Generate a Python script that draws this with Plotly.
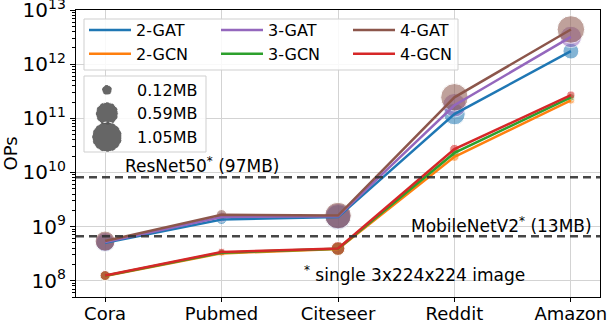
import numpy as np
import plotly.graph_objects as go

# datasets on the x axis
datasets = ["Cora", "Pubmed", "Citeseer", "Reddit", "Amazon"]

# operations per inference (OPs)
ops_2gat = [5.0e8, 1.35e9, 1.5e9, 1.2e11, 1.75e12]
ops_2gcn = [1.22e8, 3.2e8, 3.85e8, 1.95e10, 2.15e11]
ops_3gat = [5.2e8, 1.5e9, 1.55e9, 1.75e11, 3.2e12]
ops_3gcn = [1.24e8, 3.3e8, 3.9e8, 2.3e10, 2.45e11]
ops_4gat = [5.4e8, 1.65e9, 1.6e9, 2.45e11, 4.4e12]
ops_4gcn = [1.25e8, 3.4e8, 3.95e8, 2.7e10, 2.7e11]

# model size in MB (marker area)
mem_2gat = [0.40, 0.12, 0.75, 0.55, 0.30]
mem_2gcn = [0.12, 0.06, 0.22, 0.10, 0.07]
mem_3gat = [0.45, 0.12, 0.80, 0.66, 0.55]
mem_3gcn = [0.12, 0.06, 0.22, 0.10, 0.07]
mem_4gat = [0.48, 0.13, 0.84, 0.90, 0.90]
mem_4gcn = [0.12, 0.07, 0.23, 0.11, 0.08]

# reference CNNs
ref_names = ["ResNet50<sup>*</sup> (97MB)", "MobileNetV2<sup>*</sup> (13MB)"]
ref_ops = [8.2e9, 6.6e8]

size_legend_mb = [0.12, 0.59, 1.05]

series = [
    ("2-GAT", ops_2gat, mem_2gat, "#1f77b4", "legend"),
    ("2-GCN", ops_2gcn, mem_2gcn, "#ff7f0e", "legend"),
    ("3-GAT", ops_3gat, mem_3gat, "#9467bd", "legend2"),
    ("3-GCN", ops_3gcn, mem_3gcn, "#2ca02c", "legend2"),
    ("4-GAT", ops_4gat, mem_4gat, "#8c564b", "legend3"),
    ("4-GCN", ops_4gcn, mem_4gcn, "#d62728", "legend3"),
]

SCALE = 29.0  # px diameter for 1 MB
# plot area in pixels
L, R, T, B = 76, 600, 10, 297


def diam(mb):
    return SCALE * np.sqrt(np.asarray(mb))


def px(x):
    return (x - L) / (R - L)


def py(y):
    return (B - y) / (B - T)


FONT = "DejaVu Sans"
fig = go.Figure()

# markers first (semi transparent), lines on top
for name, ops, mem, col, lg in series:
    fig.add_trace(go.Scatter(
        x=datasets, y=ops, mode="markers",
        marker=dict(size=diam(mem), color=col, opacity=0.55,
                    line=dict(color="white", width=1)),
        showlegend=False, hoverinfo="skip"
    ))
for name, ops, mem, col, lg in series:
    fig.add_trace(go.Scatter(
        x=datasets, y=ops, mode="lines", name=name,
        line=dict(color=col, width=2.5), legend=lg
    ))

# reference lines across the full width (overlay x axis spanning 0..1)
for val in ref_ops:
    fig.add_trace(go.Scatter(
        x=[0, 1], y=[val, val], xaxis="x2", yaxis="y", mode="lines",
        line=dict(color="rgba(50,50,50,0.9)", width=2.5, dash="8px,5px"),
        showlegend=False, hoverinfo="skip"
    ))

# legend frames, drawn on a paper-like overlay
for x0, x1, y0, y1 in [(84, 458, 19, 70), (84, 206, 76, 152)]:
    fig.add_trace(go.Scatter(
        x=[px(x0), px(x1), px(x1), px(x0), px(x0)],
        y=[py(y0), py(y0), py(y1), py(y1), py(y0)],
        xaxis="x2", yaxis="y2", mode="lines", fill="toself",
        fillcolor="rgba(255,255,255,0.85)", line=dict(color="#cfcfcf", width=1),
        showlegend=False, hoverinfo="skip"
    ))

fig.add_annotation(text=ref_names[0], xref="x", x=0.15, xanchor="left",
                   yref="y", y=float(np.log10(ref_ops[0])), yanchor="bottom", yshift=-1,
                   showarrow=False, font=dict(size=17, color="black"))
fig.add_annotation(text=ref_names[1], xref="paper", x=0.989, xanchor="right",
                   yref="y", y=float(np.log10(ref_ops[1])), yanchor="bottom", yshift=-2,
                   showarrow=False, font=dict(size=17, color="black"))
fig.add_annotation(text="<sup>*</sup> single 3x224x224 image", xref="paper", x=px(302),
                   xanchor="left", yref="paper", y=py(274), yanchor="middle",
                   showarrow=False, font=dict(size=17, color="black"))

# size legend
for i, mb in enumerate(size_legend_mb):
    r = float(diam(mb)) / 2
    yc = py(90 + 23.5 * i)
    fig.add_shape(type="circle", layer="above", xref="paper", yref="paper",
                  xsizemode="pixel", ysizemode="pixel",
                  xanchor=px(107), yanchor=yc,
                  x0=-r, x1=r, y0=-r, y1=r,
                  fillcolor="rgba(85,85,85,0.9)", line=dict(color="white", width=1, dash="dot"))
    fig.add_annotation(text=f"{mb:.2f}MB", xref="paper", x=px(135), xanchor="left",
                       yref="paper", y=yc, yanchor="middle", showarrow=False,
                       font=dict(size=16, color="black"))

legend_common = dict(bgcolor="rgba(0,0,0,0)", borderwidth=0, yanchor="top",
                     font=dict(size=16, color="black", family=FONT),
                     itemwidth=42, tracegroupgap=0)
lx = [px(84), px(216), px(348)]

exps = list(range(8, 14))
fig.update_layout(
    width=608, height=322,
    margin=dict(l=L, r=608 - R, t=T, b=322 - B),
    paper_bgcolor="white", plot_bgcolor="white",
    font=dict(family=FONT, color="black"),
    legend=dict(x=lx[0], y=py(13), **legend_common),
    legend2=dict(x=lx[1], y=py(13), **legend_common),
    legend3=dict(x=lx[2], y=py(13), **legend_common),
    xaxis=dict(
        type="category", range=[-0.25, 4.25], automargin=False,
        showgrid=True, gridcolor="#d3d3d3", gridwidth=1,
        ticks="outside", ticklen=4, tickcolor="black",
        ticklabelstandoff=-4,
        showline=True, linecolor="black", linewidth=1.2, mirror=True,
        tickfont=dict(size=18, color="black"),
    ),
    xaxis2=dict(overlaying="x", range=[0, 1], visible=False, fixedrange=True),
    yaxis=dict(
        type="log", range=[np.log10(5e7), 13.003], automargin=False,
        tickvals=[10.0 ** e for e in exps],
        ticktext=[f"10<sup>{e}</sup>" for e in exps],
        ticklabeloverflow="allow",
        showgrid=True, gridcolor="#d3d3d3", gridwidth=1,
        ticks="outside", ticklen=5, tickcolor="black",
        minor=dict(ticks="outside", ticklen=3, tickcolor="black", showgrid=False,
                   tickvals=[m * 10.0 ** e for e in range(7, 13) for m in range(2, 10)]),
        showline=True, linecolor="black", linewidth=1.2, mirror=True,
        tickfont=dict(size=20, color="black"),
        title=dict(text="OPs", font=dict(size=18, color="black"), standoff=6),
    ),
    yaxis2=dict(overlaying="y", range=[0, 1], visible=False, fixedrange=True),
)

fig.write_html("out.html", config={"displayModeBar": False},
               post_script="document.body.style.margin='0';")
